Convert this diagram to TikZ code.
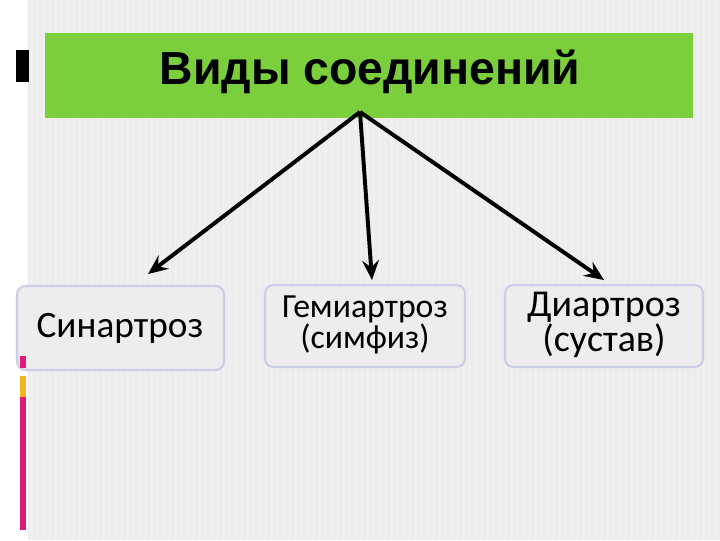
\documentclass[tikz,border=0pt]{standalone}
\usepackage{fontspec}
\setmainfont{Carlito}
\newfontfamily\titlefont{Liberation Sans}
\usetikzlibrary{arrows.meta}
\definecolor{slidegray}{HTML}{EDEDED}
\definecolor{titlegreen}{HTML}{7BCF3C}
\definecolor{boxline}{HTML}{CBCEE6}
\definecolor{barpink}{HTML}{E0197A}
\definecolor{baryellow}{HTML}{F5B51E}
\tikzset{
    kindbox/.style={draw=boxline, line width=1.5pt, rounded corners=6pt, fill=slidegray},
    kindtext/.style={align=center, inner sep=0pt},
    branch/.style={-{Stealth[length=14pt, width=12pt, inset=5pt]}, line width=2.8pt}
}

\begin{document}
\begin{tikzpicture}[x=0.025cm, y=-0.025cm]
            \useasboundingbox (0, 0) rectangle (720, 540);
            \fill[white] (0, 0) rectangle (720, 540);
            \fill[slidegray] (28, 0) rectangle (720, 540);
            \foreach \s in {31, 37, ..., 720} {
                \draw[white, opacity=0.35, line width=0.6pt] (\s, 0) -- (\s, 540);
            };
            \node[fill=titlegreen, minimum width=648*0.025cm, minimum height=85*0.025cm, inner sep=0pt] (title) at (369, 75.5) {};
            \node[inner sep=0pt, font=\titlefont\bfseries\fontsize{33}{36}\selectfont] (titletext) at (370, 72) {Виды соединений};
            \draw[kindbox] (17, 286) rectangle (224, 370);
            \draw[kindbox] (265, 285) rectangle (465, 367);
            \draw[kindbox] (505, 285) rectangle (703, 367);
            \fill[black] (16, 50) rectangle (29, 82);
            \fill[barpink] (20, 356) rectangle (26, 368);
            \fill[baryellow] (20, 376) rectangle (26, 397);
            \fill[barpink] (20, 397) rectangle (26, 530);
            \node[kindtext, font=\fontsize{26.5}{28}\selectfont] (syn) at (120, 328) {Синартроз};
            \node[kindtext, font=\fontsize{24}{21}\selectfont] (hemi) at (365, 325) {Гемиартроз\\(симфиз)};
            \node[kindtext, font=\fontsize{27}{25}\selectfont] (dia) at (604, 325) {Диартроз\\(сустав)};
            \coordinate (hub) at (360, 112);
            \coordinate (synend) at (148, 274);
            \coordinate (hemiend) at (372, 280);
            \coordinate (diaend) at (604, 280);
            \draw[branch] (hub) -- (synend);
            \draw[branch] (hub) -- (hemiend);
            \draw[branch] (hub) -- (diaend);
        \end{tikzpicture}
\end{document}
